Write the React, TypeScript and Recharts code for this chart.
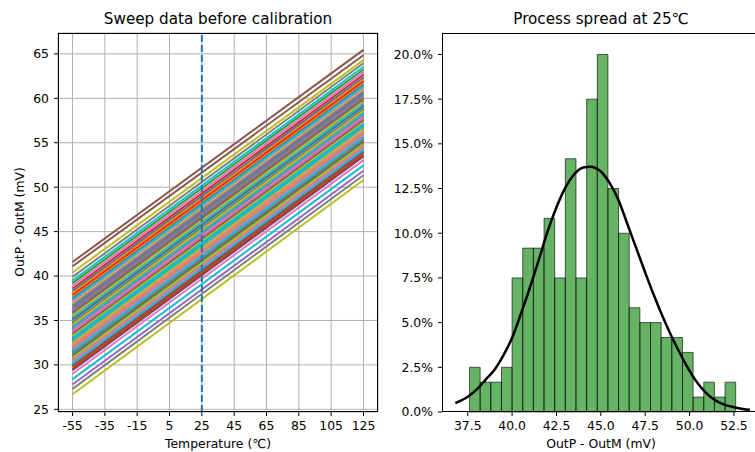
import React from 'react';
import {
  LineChart,
  Line,
  XAxis,
  YAxis,
  CartesianGrid,
  ReferenceLine,
  ReferenceArea,
} from 'recharts';

// tab10 colour cycle, one line per colour in turn
const TAB10 = ['#1f77b4', '#ff7f0e', '#2ca02c', '#d62728', '#9467bd', '#8c564b', '#e377c2', '#7f7f7f', '#bcbd22', '#17becf'];

// ---- left panel: sweep lines (OutP - OutM in mV at -55 °C and at 125 °C) ----
const SWEEP_T = [-55, 125];
const TEMP_TICKS = [-55, -35, -15, 5, 25, 45, 65, 85, 105, 125];
const MV_TICKS = [25, 30, 35, 40, 45, 50, 55, 60, 65];

const LINE_START = [
  29.4, 29.65, 29.75, 29.5, 27.8, 29.85, 29.0, 27.3, 26.7, 28.4,
  30.25, 30.5, 30.85, 30.0, 30.65, 31.05, 30.4, 30.95, 30.75, 30.15,
  31.45, 32.0, 31.15, 31.65, 31.9, 31.25, 31.75, 31.35, 32.1, 31.55,
  32.6, 32.2, 32.75, 32.45, 32.95, 32.9, 32.3, 32.65, 32.5, 32.8,
  33.7, 33.65, 33.15, 33.8, 33.35, 33.5, 33.75, 33.85, 33.25, 33.05,
  33.95, 34.1, 34.45, 34.35, 34.0, 34.3, 33.9, 34.15, 34.4, 34.25,
  34.75, 34.6, 34.65, 34.7, 34.5, 34.9, 35.05, 34.85, 34.55, 35.0,
  35.15, 35.75, 35.65, 35.2, 35.85, 35.95, 35.45, 35.35, 35.55, 35.3,
  37.5, 37.7, 36.5, 37.9, 36.3, 41.1, 37.1, 36.1, 36.9, 37.3,
  38.3, 38.1, 39.2, 38.6, 36.7, 41.58, 38.9, 39.9, 40.4, 39.5,
];

const LINE_END = [
  53.45, 53.7, 53.8, 53.55, 51.85, 53.9, 53.05, 51.35, 50.8, 52.45,
  54.3, 54.55, 54.9, 54.05, 54.7, 55.1, 54.45, 55.0, 54.8, 54.2,
  55.5, 56.05, 55.2, 55.7, 55.95, 55.3, 55.8, 55.4, 56.15, 55.6,
  56.65, 56.25, 56.8, 56.5, 57.0, 56.95, 56.35, 56.7, 56.55, 56.85,
  57.75, 57.7, 57.2, 57.85, 57.4, 57.55, 57.8, 57.9, 57.3, 57.1,
  58.0, 58.15, 58.5, 58.4, 58.05, 58.35, 57.95, 58.2, 58.45, 58.3,
  58.8, 58.65, 58.7, 58.75, 58.55, 58.95, 59.1, 58.9, 58.6, 59.05,
  59.2, 59.8, 59.7, 59.25, 59.9, 60.0, 59.5, 59.4, 59.6, 59.35,
  61.55, 61.75, 60.55, 61.95, 60.35, 64.85, 61.15, 60.15, 60.95, 61.35,
  62.35, 62.15, 63.25, 62.65, 60.75, 65.45, 62.95, 63.95, 64.3, 63.55,
];

// ---- right panel: histogram at 25 °C (density, %) and fitted curve ----
const HIST_EDGES = [
  37.6, 38.2, 38.8, 39.4, 40.0, 40.6, 41.2, 41.8, 42.4, 43.0, 43.6, 44.2, 44.8,
  45.4, 46.0, 46.6, 47.2, 47.8, 48.4, 49.0, 49.6, 50.2, 50.8, 51.4, 52.0, 52.6,
];
const HIST_PCT = [
  2.5, 1.667, 1.667, 2.5, 7.5, 9.167, 9.167, 10.833, 7.5, 14.167, 7.5, 17.5, 20.0,
  12.5, 10.0, 5.833, 5.0, 5.0, 4.167, 4.167, 3.333, 0.833, 1.667, 0.833, 1.667,
];
const CURVE_X = [
  36.8, 37.5, 38.0, 38.5, 39.0, 39.5, 40.0, 40.5, 41.0, 41.5, 42.0, 42.5, 43.0, 43.5, 44.0, 44.4,
  45.0, 45.5, 46.0, 46.5, 47.0, 47.5, 48.0, 48.5, 49.0, 49.5, 50.0, 50.5, 51.0, 51.5, 52.0, 52.5, 53.0, 53.4,
];
const CURVE_PCT = [
  0.5, 0.85, 1.25, 1.8, 2.35, 3.15, 4.15, 5.5, 6.95, 8.5, 10.1, 11.45, 12.55, 13.3, 13.68, 13.72,
  13.45, 12.8, 11.85, 10.5, 9.15, 7.8, 6.5, 5.3, 4.2, 3.2, 2.3, 1.55, 1.0, 0.62, 0.4, 0.27, 0.17, 0.12,
];
const PCT_TICKS = [0, 2.5, 5, 7.5, 10, 12.5, 15, 17.5, 20];
const SPREAD_TICKS = [37.5, 40, 42.5, 45, 47.5, 50, 52.5];

const FONT = '"DejaVu Sans", sans-serif';
const tickStyle = { fontSize: 12.4, fill: '#000', fontFamily: FONT };

const sweepRows = [LINE_START, LINE_END].map((vals, r) => {
  const row: Record<string, number> = { t: SWEEP_T[r] };
  vals.forEach((v, i) => {
    row[`s${i}`] = v;
  });
  return row;
});

const curveRows = CURVE_X.map((x, i) => ({ x, pct: CURVE_PCT[i] }));

function Text({ x, y, size, children, rotate }: { x: number; y: number; size: number; children: React.ReactNode; rotate?: boolean }) {
  return (
    <div
      style={{
        position: 'absolute',
        left: x,
        top: y,
        transform: `translate(-50%, -50%)${rotate ? ' rotate(-90deg)' : ''}`,
        fontSize: size,
        lineHeight: 1,
        whiteSpace: 'nowrap',
        color: '#000',
      }}
    >
      {children}
    </div>
  );
}

function Frame({ left, top, width, height }: { left: number; top: number; width: number; height: number }) {
  return (
    <div
      style={{
        position: 'absolute',
        left,
        top,
        width,
        height,
        border: '1px solid #000',
        boxSizing: 'border-box',
        pointerEvents: 'none',
      }}
    />
  );
}

export default function App() {
  return (
    <div
      style={{
        position: 'fixed',
        left: 0,
        top: 0,
        width: 755,
        height: 452,
        overflow: 'hidden',
        background: '#fff',
        fontFamily: FONT,
      }}
    >
      <div style={{ position: 'absolute', left: 0, top: 0 }}>
        <LineChart width={380} height={452} data={sweepRows} margin={{ top: 33, right: 2, bottom: 0, left: 0 }}>
          <CartesianGrid stroke="#b0b0b0" strokeWidth={1} />
          <XAxis
            dataKey="t"
            type="number"
            domain={[-64, 134]}
            ticks={TEMP_TICKS}
            interval={0}
            height={40}
            axisLine={false}
            tickLine={{ stroke: '#000' }}
            tickSize={4}
            tickMargin={5}
            tick={tickStyle}
          />
          <YAxis
            type="number"
            domain={[24.7, 67.35]}
            ticks={MV_TICKS}
            interval={0}
            width={58}
            axisLine={false}
            tickLine={{ stroke: '#000' }}
            tickSize={4}
            tickMargin={5}
            tick={tickStyle}
            allowDataOverflow
          />
          {LINE_START.map((_, i) => (
            <Line
              key={i}
              dataKey={`s${i}`}
              type="linear"
              stroke={TAB10[i % 10]}
              strokeWidth={2}
              dot={false}
              activeDot={false}
              isAnimationActive={false}
            />
          ))}
          <ReferenceLine x={25} stroke="#1f77b4" strokeWidth={2} strokeDasharray="7 3" />
        </LineChart>
      </div>

      <div style={{ position: 'absolute', left: 380, top: 0 }}>
        <LineChart width={390} height={452} data={curveRows} margin={{ top: 33, right: 5, bottom: 0, left: 0 }}>
          <XAxis
            dataKey="x"
            type="number"
            domain={[36.05, 54.25]}
            ticks={SPREAD_TICKS}
            interval={0}
            height={40}
            axisLine={false}
            tickLine={{ stroke: '#000' }}
            tickSize={4}
            tickMargin={5}
            tick={tickStyle}
            tickFormatter={(v: number) => v.toFixed(1)}
            allowDataOverflow
          />
          <YAxis
            type="number"
            domain={[0, 21.2]}
            ticks={PCT_TICKS}
            interval={0}
            width={62}
            axisLine={false}
            tickLine={{ stroke: '#000' }}
            tickSize={4}
            tickMargin={5}
            tick={tickStyle}
            tickFormatter={(v: number) => `${v.toFixed(1)}%`}
            allowDataOverflow
          />
          {HIST_PCT.map((p, i) => (
            <ReferenceArea
              key={i}
              x1={HIST_EDGES[i]}
              x2={HIST_EDGES[i + 1]}
              y1={0}
              y2={p}
              fill="#008000"
              fillOpacity={0.6}
              stroke="#000"
              strokeOpacity={0.6}
              strokeWidth={1}
            />
          ))}
          <Line
            dataKey="pct"
            type="monotone"
            stroke="#000"
            strokeWidth={2.5}
            dot={false}
            activeDot={false}
            isAnimationActive={false}
          />
        </LineChart>
      </div>

      <Frame left={58} top={33} width={320} height={379} />
      <Frame left={442} top={33} width={330} height={379} />

      <Text x={218} y={20} size={15.2}>Sweep data before calibration</Text>
      <Text x={601} y={20} size={15.2}>Process spread at 25℃</Text>
      <Text x={218} y={444} size={12.4}>Temperature (℃)</Text>
      <Text x={601} y={444} size={12.4}>OutP - OutM (mV)</Text>
      <Text x={20} y={222} size={12.4} rotate>OutP - OutM (mV)</Text>
    </div>
  );
}
